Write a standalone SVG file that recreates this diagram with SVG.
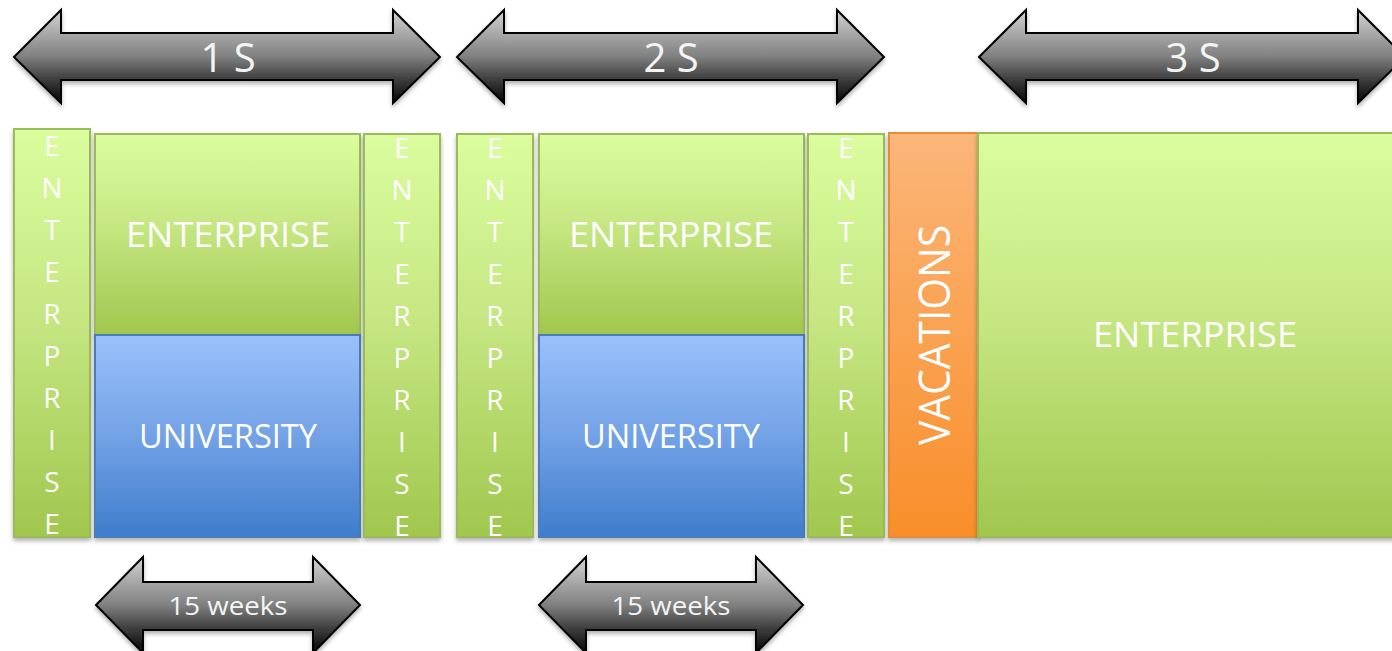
<svg xmlns="http://www.w3.org/2000/svg" width="1392" height="651" viewBox="0 0 1392 651">
<defs>
<linearGradient id="gGreen" x1="0" y1="0" x2="0" y2="1">
<stop offset="0" stop-color="#dbfd9e"/><stop offset="0.45" stop-color="#c6e783"/><stop offset="1" stop-color="#a1c74e"/>
</linearGradient>
<linearGradient id="gBlue" x1="0" y1="0" x2="0" y2="1">
<stop offset="0" stop-color="#9ac1fb"/><stop offset="0.5" stop-color="#73a2e6"/><stop offset="1" stop-color="#3e7dcb"/>
</linearGradient>
<linearGradient id="gOrange" x1="0" y1="0" x2="0" y2="1">
<stop offset="0" stop-color="#fbb679"/><stop offset="1" stop-color="#f98e2a"/>
</linearGradient>
<linearGradient id="gArrow" x1="0" y1="0" x2="0" y2="1">
<stop offset="0" stop-color="#d2d2d2"/><stop offset="0.25" stop-color="#a9a9a9"/><stop offset="0.5" stop-color="#808080"/><stop offset="0.75" stop-color="#3c3c3c"/><stop offset="1" stop-color="#050505"/>
</linearGradient>
<filter id="shadow" x="-10%" y="-10%" width="120%" height="130%">
<feDropShadow dx="0" dy="3" stdDeviation="2" flood-color="#000" flood-opacity="0.3"/>
</filter>
</defs>
<style>
.ent{fill:url(#gGreen);stroke:#9bbb59;stroke-width:2;filter:url(#shadow)}
.uni{fill:url(#gBlue);stroke:#4a7ebb;stroke-width:2}
.vac{fill:url(#gOrange);stroke:#e88b35;stroke-width:2;filter:url(#shadow)}
.arr{fill:url(#gArrow);stroke:#000;stroke-width:2;stroke-linejoin:miter;filter:url(#shadow)}
text{font-family:"Open Sans","Liberation Sans",sans-serif;fill:#fff;text-anchor:middle}
.big{font-size:35px}
.uniT{font-size:32px}
.letters{font-size:28px}
.arrT{font-size:40px;fill:#f4f4f4}
.wk{font-size:26px;fill:#f4f4f4}
</style>
<rect width="1392" height="651" fill="#fff"/>

<g id="arrow-1s">
<path class="arr" d="M14,57 L61,10 L61,33 L393,33 L393,10 L440,57 L393,103 L393,80 L61,80 L61,103 Z"/>
<text class="arrT" x="228" y="72">1 S</text>
</g>
<g id="arrow-2s">
<path class="arr" d="M457,57 L504,10 L504,33 L837,33 L837,10 L884,57 L837,103 L837,80 L504,80 L504,103 Z"/>
<text class="arrT" x="671" y="72">2 S</text>
</g>
<g id="arrow-3s">
<path class="arr" d="M979,57 L1026,10 L1026,33 L1358,33 L1358,10 L1405,57 L1358,103 L1358,80 L1026,80 L1026,103 Z"/>
<text class="arrT" x="1193" y="72">3 S</text>
</g>

<g id="enterprise-v1">
<rect class="ent" x="14" y="129" width="76" height="408"/>
<text class="letters" x="52"><tspan x="52" y="156">E</tspan><tspan x="52" y="198">N</tspan><tspan x="52" y="240">T</tspan><tspan x="52" y="282">E</tspan><tspan x="52" y="324">R</tspan><tspan x="52" y="366">P</tspan><tspan x="52" y="408">R</tspan><tspan x="52" y="450">I</tspan><tspan x="52" y="492">S</tspan><tspan x="52" y="534">E</tspan></text>
</g>

<g id="semester-1">
<rect class="ent" x="95" y="134" width="265" height="201"/>
<rect class="uni" x="95" y="335" width="265" height="202" filter="url(#shadow)"/>
<text class="big" x="228" y="247" textLength="204" lengthAdjust="spacingAndGlyphs">ENTERPRISE</text>
<text class="uniT" x="228" y="448" textLength="178" lengthAdjust="spacingAndGlyphs">UNIVERSITY</text>
</g>

<g id="enterprise-v2">
<rect class="ent" x="364" y="134" width="76" height="403"/>
<text class="letters"><tspan x="402" y="158">E</tspan><tspan x="402" y="200">N</tspan><tspan x="402" y="242">T</tspan><tspan x="402" y="284">E</tspan><tspan x="402" y="326">R</tspan><tspan x="402" y="368">P</tspan><tspan x="402" y="410">R</tspan><tspan x="402" y="452">I</tspan><tspan x="402" y="494">S</tspan><tspan x="402" y="536">E</tspan></text>
</g>

<g id="enterprise-v3">
<rect class="ent" x="457" y="134" width="76" height="403"/>
<text class="letters"><tspan x="495" y="158">E</tspan><tspan x="495" y="200">N</tspan><tspan x="495" y="242">T</tspan><tspan x="495" y="284">E</tspan><tspan x="495" y="326">R</tspan><tspan x="495" y="368">P</tspan><tspan x="495" y="410">R</tspan><tspan x="495" y="452">I</tspan><tspan x="495" y="494">S</tspan><tspan x="495" y="536">E</tspan></text>
</g>

<g id="semester-2">
<rect class="ent" x="539" y="134" width="265" height="201"/>
<rect class="uni" x="539" y="335" width="265" height="202" filter="url(#shadow)"/>
<text class="big" x="671" y="247" textLength="204" lengthAdjust="spacingAndGlyphs">ENTERPRISE</text>
<text class="uniT" x="671" y="448" textLength="178" lengthAdjust="spacingAndGlyphs">UNIVERSITY</text>
</g>

<g id="enterprise-v4">
<rect class="ent" x="808" y="134" width="76" height="403"/>
<text class="letters"><tspan x="846" y="158">E</tspan><tspan x="846" y="200">N</tspan><tspan x="846" y="242">T</tspan><tspan x="846" y="284">E</tspan><tspan x="846" y="326">R</tspan><tspan x="846" y="368">P</tspan><tspan x="846" y="410">R</tspan><tspan x="846" y="452">I</tspan><tspan x="846" y="494">S</tspan><tspan x="846" y="536">E</tspan></text>
</g>

<g id="vacations">
<rect class="vac" x="889" y="133" width="89" height="404"/>
<text x="0" y="0" font-size="43" transform="translate(950,335) rotate(-90)" textLength="220" lengthAdjust="spacingAndGlyphs">VACATIONS</text>
</g>

<g id="enterprise-3s">
<rect class="ent" x="978" y="133" width="430" height="404"/>
<text class="big" x="1195" y="347" textLength="204" lengthAdjust="spacingAndGlyphs">ENTERPRISE</text>
</g>

<g id="weeks-1">
<path class="arr" d="M96,605 L143,557 L143,582 L313,582 L313,557 L360,605 L313,653 L313,630 L143,630 L143,653 Z"/>
<text class="wk" x="228" y="615" textLength="119" lengthAdjust="spacingAndGlyphs">15 weeks</text>
</g>
<g id="weeks-2">
<path class="arr" d="M539,605 L586,557 L586,582 L756,582 L756,557 L803,605 L756,653 L756,630 L586,630 L586,653 Z"/>
<text class="wk" x="671" y="615" textLength="119" lengthAdjust="spacingAndGlyphs">15 weeks</text>
</g>

<g id="connectors"/>
</svg>
